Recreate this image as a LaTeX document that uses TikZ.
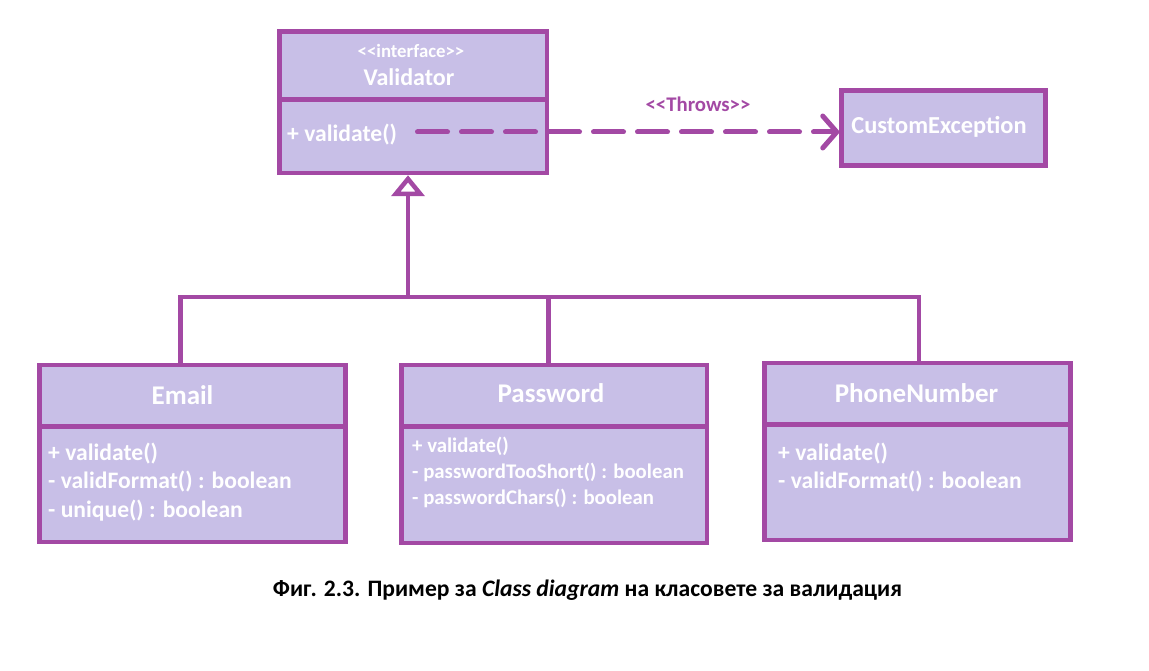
\documentclass[tikz,border=0pt]{standalone}
\usepackage{fontspec}
\setmainfont{Carlito}
\usetikzlibrary{arrows.meta}
\definecolor{umlborder}{RGB}{163,73,164}
\definecolor{umlfill}{RGB}{200,191,231}
\tikzset{
  comp/.style={draw=umlborder, fill=umlfill, line width=4.5pt, rectangle, inner sep=0pt},
  ttl/.style={text=white, font=\bfseries\fontsize{27}{32}\selectfont, inner sep=0pt},
  mem/.style={text=white, font=\bfseries\fontsize{23.6}{28}\selectfont, anchor=base west, inner sep=0pt},
  memsm/.style={mem, font=\bfseries\fontsize{20.8}{24}\selectfont},
  conn/.style={draw=umlborder, line width=4.5pt},
  inh/.style={conn, -{Triangle[open, length=21pt, width=33pt, fill=white]}},
  dep/.style={draw=umlborder, line width=5pt, line cap=round, dash pattern=on 30pt off 14pt,
              -{Straight Barb[length=14pt, width=32pt, round]}},
}
\begin{document}
\begin{tikzpicture}[x=1pt, y=-1pt]
\useasboundingbox (0,0) rectangle (1149,671);

% Validator
\node[comp, minimum width=267.5pt, minimum height=73.5pt] (valB) at (413.25,136.25) {};
\node[comp, minimum width=267.5pt, minimum height=68pt] (valT) at (413.25,65.5) {};
\node[text=white, font=\bfseries\fontsize{18.8}{22}\selectfont, inner sep=0pt] (valS) at (411,51) {<\kern0pt<interface>\kern0pt>};
\node[ttl, font=\bfseries\fontsize{24}{28}\selectfont] (valN) at (409,77) {Validator};
\node[mem] (val1) at (287,142) {+ validate()};

% CustomException
\node[comp, minimum width=204pt, minimum height=75pt] (exc) at (943.5,128) {};
\node[text=white, font=\bfseries\fontsize{24.4}{28}\selectfont, inner sep=0pt] (excN) at (939,127) {CustomException};

% Email
\node[comp, minimum width=306pt, minimum height=115.5pt] (emB) at (192.5,484.25) {};
\node[comp, minimum width=306pt, minimum height=61.5pt] (emT) at (192.5,395.75) {};
\node[ttl] (emN) at (182.5,395) {Email};
\node[mem] (em1) at (48,460) {+ validate()};
\node[mem] (em2) at (48,488) {- validFormat() : boolean};
\node[mem] (em3) at (48,517) {- unique() : boolean};

% Password
\node[comp, minimum width=305.5pt, minimum height=116.5pt] (pwB) at (554.25,484.75) {};
\node[comp, minimum width=305.5pt, minimum height=61.5pt] (pwT) at (554.25,395.75) {};
\node[ttl] (pwN) at (551,393) {Password};
\node[memsm] (pw1) at (412,452) {+ validate()};
\node[memsm] (pw2) at (412,478) {- passwordTooShort() : boolean};
\node[memsm] (pw3) at (412,504) {- passwordChars() : boolean};

% PhoneNumber
\node[comp, minimum width=306pt, minimum height=115.5pt] (phB) at (917.5,482.25) {};
\node[comp, minimum width=306pt, minimum height=61.5pt] (phT) at (917.5,393.75) {};
\node[ttl] (phN) at (916.5,393) {PhoneNumber};
\node[mem] (ph1) at (778,460) {+ validate()};
\node[mem] (ph2) at (778,488) {- validFormat() : boolean};

% Realization connectors
\coordinate (jn) at (408,297);
\coordinate (hl) at (180.5,297);
\coordinate (hm) at (548.5,297);
\coordinate (hr) at (919,297);
\draw[conn] (hl |- emT.north) |- (hr) -- (hr |- phT.north);
\draw[conn] (hm) -- (hm |- pwT.north);
\draw[inh] (jn) -- (jn |- valB.south);

% Throws dependency
\coordinate (ds) at (417.5,132);
\draw[dep] (ds) -- (ds -| exc.west);
\node[text=umlborder, font=\bfseries\fontsize{20.8}{24}\selectfont, inner sep=0pt] (thr) at (698,104) {<\kern0pt<Throws>\kern0pt>};

% Caption
\node[font=\bfseries\fontsize{23.6}{28}\selectfont, inner sep=0pt] (cap) at (587.5,590)
  {Фиг. 2.3. Пример за \textit{Class diagram} на класовете за валидация};
\end{tikzpicture}
\end{document}
